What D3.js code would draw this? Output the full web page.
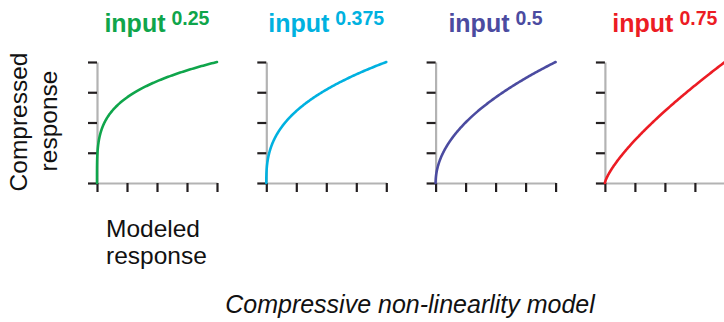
<!DOCTYPE html>
<html>
<head>
<meta charset="utf-8">
<script src="https://cdn.jsdelivr.net/npm/d3@7"></script>
<style>
  html, body { margin: 0; padding: 0; background: #fff; }
  svg { display: block; font-family: "Liberation Sans", Arial, Helvetica, sans-serif; }
</style>
</head>
<body>
<svg id="chart" width="724" height="322"></svg>
<script>
// Exponents of the compressive power law, one panel each
const exponents = [0.25, 0.375, 0.5, 0.75];
const exponentLabels = ["0.25", "0.375", "0.5", "0.75"];
const panelColors = ["#0fa54b", "#00b1e0", "#4b4ba0", "#ec1c24"];
const xTicks = [0, 0.25, 0.5, 0.75, 1];
const yTicks = [0, 0.25, 0.5, 0.75, 1];
const baseWord = "input";

const svg = d3.select("#chart");

const panelLeft = 97, panelStep = 169.3, panelW = 120;
const plotTop = 62, plotBottom = 183;

// Input levels sampled densely near zero, where the steep curves bend
const inputs = d3.range(0, 201).map(i => Math.pow(i / 200, 3));

exponents.forEach((p, i) => {
  const x0 = panelLeft + i * panelStep;
  const x = d3.scaleLinear().domain([0, 1]).range([x0, x0 + panelW]);
  const y = d3.scaleLinear().domain([0, 1]).range([plotBottom, plotTop]);

  const g = svg.append("g");

  const yAxis = g.append("g")
    .attr("transform", `translate(${x0},0)`)
    .call(d3.axisLeft(y).tickValues(yTicks).tickSize(9).tickSizeOuter(0).tickFormat(""));
  const xAxis = g.append("g")
    .attr("transform", `translate(0,${plotBottom})`)
    .call(d3.axisBottom(x).tickValues(xTicks).tickSize(9).tickSizeOuter(0).tickFormat(""));

  [yAxis, xAxis].forEach(a => {
    a.select(".domain").attr("stroke", "#b3b3b3").attr("stroke-width", 2.2);
    a.selectAll(".tick line").attr("stroke", "#231f20").attr("stroke-width", 2.2);
  });

  const line = d3.line()
    .x(d => x(d))
    .y(d => y(Math.pow(d, p)));

  g.append("path")
    .datum(inputs)
    .attr("fill", "none")
    .attr("stroke", panelColors[i])
    .attr("stroke-width", 2.6)
    .attr("stroke-linecap", "round")
    .attr("d", line);

  // Panel title: input^exponent, centered over the axis
  const title = g.append("text")
    .attr("y", 32)
    .attr("fill", panelColors[i])
    .attr("font-weight", "bold")
    .attr("font-size", 25);
  title.append("tspan").text(baseWord);
  title.append("tspan")
    .attr("dx", 6)
    .attr("dy", -7)
    .attr("font-size", 19.5)
    .text(exponentLabels[i]);
  const bb = title.node().getBBox();
  title.attr("x", x0 + panelW / 2 - bb.width / 2);
});

// Y axis label
const yLab = svg.append("g").attr("font-size", 24.5).attr("fill", "#111");
yLab.append("text")
  .attr("transform", "translate(27,122) rotate(-90)")
  .attr("text-anchor", "middle")
  .text("Compressed");
yLab.append("text")
  .attr("transform", "translate(57,121) rotate(-90)")
  .attr("text-anchor", "middle")
  .text("response");

// X axis label
svg.append("text").attr("x", 106).attr("y", 237)
  .attr("font-size", 24.5).attr("fill", "#111").text("Modeled");
svg.append("text").attr("x", 106).attr("y", 263.5)
  .attr("font-size", 24.5).attr("fill", "#111").text("response");

// Caption
svg.append("text")
  .attr("x", 410).attr("y", 313)
  .attr("text-anchor", "middle")
  .attr("font-size", 25)
  .attr("font-style", "italic")
  .attr("fill", "#111")
  .text("Compressive non-linearlity model");
</script>
</body>
</html>
